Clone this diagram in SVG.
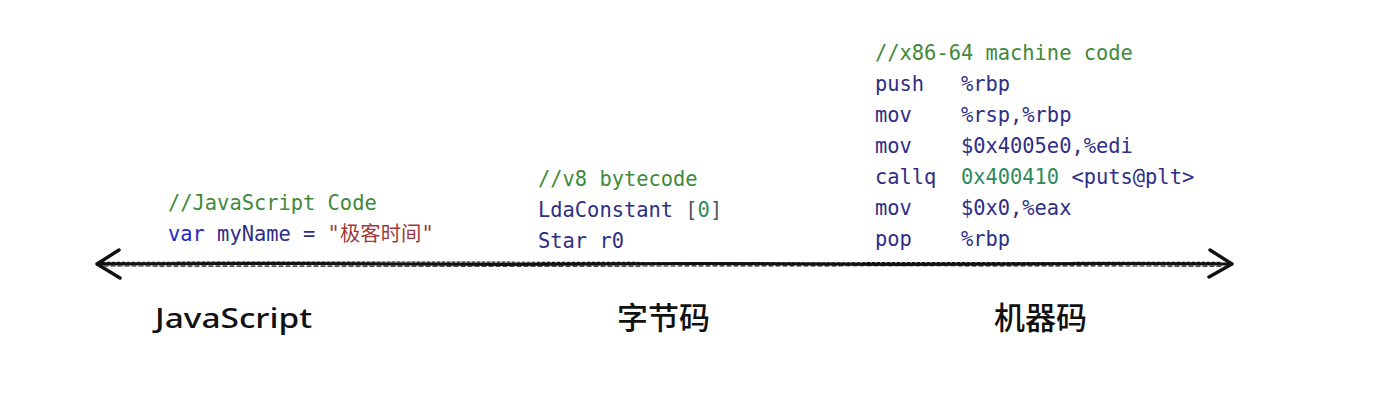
<svg xmlns="http://www.w3.org/2000/svg" width="1382" height="410" viewBox="0 0 1382 410">
<style>
.code{font-family:"DejaVu Sans Mono","Liberation Mono",monospace;font-size:20.4px;fill:#2e2e86;white-space:pre}
.cm{fill:#3f8a3a}
.kw{fill:#2525c8}
.str{fill:#a03a3a}
.num{fill:#2f8a5a}
.gr{fill:#555}
.lbl{font-family:"Noto Sans CJK SC","Noto Sans",sans-serif;font-size:31px;fill:#111;font-weight:500}
.ln{fill:none;stroke:#111;stroke-linecap:round;stroke-linejoin:round}
</style>
<rect width="1382" height="410" fill="#fff"/>
<g id="connectors">
<path class="ln" stroke-width="3" d="M100,264 L300,263.5 L500,264.5 L700,263.5 L900,264.5 L1100,263.5 L1228,264"/>
<path class="ln" stroke-width="1.2" stroke-dasharray="3 2" d="M102,262.3 L400,262 L800,262.8 L1220,262.3"/>
<path class="ln" stroke-width="1.2" stroke-dasharray="4 3" d="M104,266 L500,266.2 L900,265.7 L1222,266.1"/>
<path class="ln" stroke-width="3.4" d="M119,250 L97,264 L120,278"/>
<path class="ln" stroke-width="3.4" d="M1210,250 L1232,264 L1209,277"/>
</g>
<g id="js">
<text class="code cm" x="168" y="210">//JavaScript Code</text>
<text class="code" x="168" y="241"><tspan class="kw">var</tspan> myName = <tspan class="str" style="font-family:'DejaVu Sans Mono','Noto Sans CJK SC',monospace">"极客时间"</tspan></text>
<text class="lbl" x="155" y="328" textLength="157" lengthAdjust="spacingAndGlyphs" style="font-family:'Noto Sans',sans-serif;font-size:27px;font-weight:500">JavaScript</text>
</g>
<g id="bytecode">
<text class="code cm" x="538" y="186">//v8 bytecode</text>
<text class="code" x="538" y="217">LdaConstant <tspan class="gr">[</tspan><tspan class="num">0</tspan><tspan class="gr">]</tspan></text>
<text class="code" x="538" y="248">Star r0</text>
<text class="lbl" x="617" y="329">字节码</text>
</g>
<g id="machine">
<text class="code cm" x="875" y="60">//x86-64 machine code</text>
<text class="code" x="875" y="91">push   %rbp</text>
<text class="code" x="875" y="122">mov    %rsp,%rbp</text>
<text class="code" x="875" y="153">mov    $0x4005e0,%edi</text>
<text class="code" x="875" y="184">callq  <tspan class="num">0x400410</tspan> &lt;puts@plt&gt;</text>
<text class="code" x="875" y="215">mov    $0x0,%eax</text>
<text class="code" x="875" y="246">pop    %rbp</text>
<text class="lbl" x="994" y="329">机器码</text>
</g>
</svg>
